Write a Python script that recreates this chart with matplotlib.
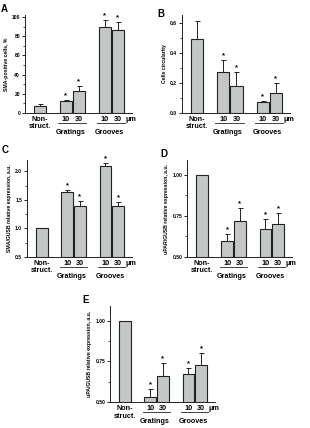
import matplotlib
matplotlib.use('Agg')
import matplotlib.pyplot as plt
import matplotlib.transforms as mt
from matplotlib.ticker import MultipleLocator, FormatStrFormatter

plt.rcParams['font.family'] = ['Liberation Sans', 'DejaVu Sans']

# ---- data ----
x_pos = [0, 2, 3, 5, 6]
size_labels = ['10', '30', '10', '30']
group_names = ['Gratings', 'Grooves']
group_centers = [2.5, 5.5]

a_vals = [7, 12, 23, 90, 86]
a_err = [2, 2, 5, 7, 9]
a_sig = [False, True, True, True, True]

b_vals = [0.49, 0.27, 0.18, 0.07, 0.13]
b_err = [0.12, 0.08, 0.09, 0.01, 0.07]
b_sig = [False, True, True, True, True]

c_vals = [1.0, 1.64, 1.40, 2.10, 1.40]
c_err = [0.0, 0.04, 0.08, 0.05, 0.07]
c_sig = [False, True, True, True, True]

d_vals = [1.0, 0.60, 0.72, 0.67, 0.70]
d_err = [0.0, 0.04, 0.08, 0.06, 0.07]
d_sig = [False, True, True, True, True]

e_vals = [1.0, 0.53, 0.66, 0.67, 0.73]
e_err = [0.0, 0.05, 0.08, 0.04, 0.07]
e_sig = [False, True, True, True, True]

W, H = 310, 428
fig = plt.figure(figsize=(W / 100, H / 100), dpi=100)

BAR_COLOR = '#c3c8c6'
INK = '#222222'
PX = 0.72  # points per pixel at 100 dpi


def make_axes(left, top, right, bottom):
    return fig.add_axes([left / W, (H - bottom) / H, (right - left) / W, (bottom - top) / H])


def label_at(ax, x, txt, dy_px, fs=5.2):
    ax.annotate(txt, xy=(x, 0), xycoords=('data', 'axes fraction'), xytext=(0, -dy_px * PX),
                textcoords='offset points', ha='center', va='center', fontsize=fs,
                fontweight='bold', annotation_clip=False)


def panel(ax, letter, letter_xy, vals, errs, sig, ylim, major, minor, fmt, ylabel):
    ax.bar(x_pos, [v - ylim[0] for v in vals], bottom=ylim[0], width=0.93,
           color=BAR_COLOR, edgecolor=INK, linewidth=0.8, zorder=2)
    for x, v, e, s in zip(x_pos, vals, errs, sig):
        if e > 0:
            ax.errorbar([x], [v], yerr=[[0], [e]], fmt='none', ecolor=INK,
                        elinewidth=0.7, capsize=1.8, capthick=0.7, zorder=3)
        if s:
            ax.annotate('*', xy=(x, v + e), xytext=(0, 0.5), textcoords='offset points',
                        ha='center', va='bottom', fontsize=5.5, fontweight='bold')
    ax.set_xlim(-1.15, 7.08)
    ax.set_ylim(*ylim)
    for sp in ['top', 'right']:
        ax.spines[sp].set_visible(False)
    for sp in ['left', 'bottom']:
        ax.spines[sp].set_linewidth(0.7)
        ax.spines[sp].set_color(INK)
    ax.set_xticks([])
    ax.yaxis.set_major_locator(MultipleLocator(major))
    ax.yaxis.set_minor_locator(MultipleLocator(minor))
    ax.yaxis.set_major_formatter(FormatStrFormatter(fmt))
    ax.tick_params(axis='y', which='major', length=2, width=0.6, labelsize=3.6, pad=1.5)
    ax.tick_params(axis='y', which='minor', length=1.2, width=0.5)
    for lab in ax.get_yticklabels():
        lab.set_fontweight('bold')
    ax.set_ylabel(ylabel, fontsize=3.7, fontweight='bold', labelpad=2)
    fig.text(letter_xy[0] / W, 1 - letter_xy[1] / H, letter, fontsize=7, fontweight='bold',
             ha='left', va='center')

    label_at(ax, x_pos[0], 'Non-', 6.5)
    label_at(ax, x_pos[0], 'struct.', 14)
    for x, lab in zip(x_pos[1:], size_labels):
        label_at(ax, x, lab, 6.5)
    label_at(ax, x_pos[-1] + 1.0, '\u03bcm', 6.5)

    trans = mt.blended_transform_factory(ax.transData, ax.transAxes)
    off = mt.offset_copy(trans, fig=fig, y=-10 * PX, units='points')
    for gc, gname in zip(group_centers, group_names):
        ax.plot([gc - 1.1, gc + 1.05], [0, 0], transform=off, color=INK,
                lw=0.6, clip_on=False)
        label_at(ax, gc - 0.15, gname, 19.5)


axA = make_axes(25, 15, 132, 113)
panel(axA, 'A', (1, 9), a_vals, a_err, a_sig, (0, 102), 20, 10, '%d',
      'SMA-positive cells, %')
axB = make_axes(182, 15, 290, 113)
panel(axB, 'B', (157, 14), b_vals, b_err, b_sig, (0, 0.65), 0.2, 0.1, '%.1f',
      'Cells circularity')
axC = make_axes(27, 160, 132, 257)
panel(axC, 'C', (2, 150), c_vals, c_err, c_sig, (0.5, 2.2), 0.5, 0.25, '%.1f',
      'SMA/GUSB relative expression, a.u.')
axD = make_axes(187, 160, 292, 257)
panel(axD, 'D', (160, 154), d_vals, d_err, d_sig, (0.5, 1.09), 0.25, 0.125, '%.2f',
      'uPAR/GUSB relative expression, a.u.')
axE = make_axes(110, 306, 215, 402)
panel(axE, 'E', (82, 300), e_vals, e_err, e_sig, (0.5, 1.09), 0.25, 0.125, '%.2f',
      'uPA/GUSB relative expression, a.u.')

fig.savefig('out.png', dpi=100)
